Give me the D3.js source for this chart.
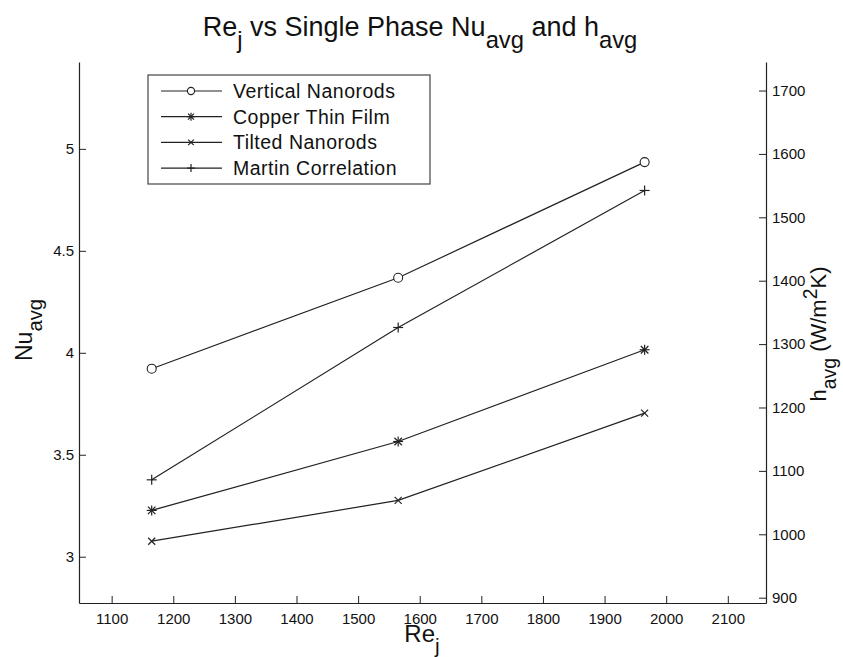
<!DOCTYPE html>
<html>
<head>
<meta charset="utf-8">
<script src="https://cdn.jsdelivr.net/npm/d3@7"></script>
<style>
  html, body { margin: 0; padding: 0; background: #fff; }
  svg { display: block; font-family: "Liberation Sans", Arial, sans-serif; }
</style>
</head>
<body>
<svg id="chart" width="843" height="657"></svg>
<script>
// Jet Reynolds number at each test point
const reynolds = [1165, 1565, 1965];

// Single phase average Nusselt number for each surface
const verticalNanorods = [3.922, 4.368, 4.935];
const copperThinFilm   = [3.227, 3.565, 4.015];
const tiltedNanorods   = [3.076, 3.276, 3.704];
const martinCorrelation = [3.377, 4.124, 4.796];

const seriesNames = ["Vertical Nanorods", "Copper Thin Film", "Tilted Nanorods", "Martin Correlation"];
const seriesMarkers = ["circle", "asterisk", "cross", "plus"];
const seriesValues = [verticalNanorods, copperThinFilm, tiltedNanorods, martinCorrelation];

// Axis limits and tick labels
const xDomain = [1047, 2162];
const nuDomain = [2.773, 5.426];
const hDomain = [891.6, 1745];
const xTicks = [1100, 1200, 1300, 1400, 1500, 1600, 1700, 1800, 1900, 2000, 2100];
const nuTicks = [3, 3.5, 4, 4.5, 5];
const hTicks = [900, 1000, 1100, 1200, 1300, 1400, 1500, 1600, 1700];

const svg = d3.select("#chart");
const plotL = 79, plotR = 766, plotT = 62, plotB = 603;
const ink = "#222";

const x = d3.scaleLinear().domain(xDomain).range([plotL, plotR]);
const yNu = d3.scaleLinear().domain(nuDomain).range([plotB, plotT]);
const yH = d3.scaleLinear().domain(hDomain).range([plotB, plotT]);

function styleAxis(g) {
  g.select(".domain").attr("stroke", ink).attr("stroke-width", 1.2);
  g.selectAll(".tick line").attr("stroke", ink).attr("stroke-width", 1);
  g.selectAll(".tick text").attr("fill", "#111").attr("font-size", 15)
    .attr("font-family", "Liberation Sans, Arial, sans-serif");
}

// Axes (ticks point inward)
svg.append("g").attr("transform", `translate(0,${plotB})`)
  .call(d3.axisBottom(x).tickValues(xTicks).tickSizeInner(-7).tickSizeOuter(0).tickPadding(10).tickFormat(d3.format("d")))
  .call(styleAxis);
svg.append("g").attr("transform", `translate(${plotL},0)`)
  .call(d3.axisLeft(yNu).tickValues(nuTicks).tickSizeInner(-7).tickSizeOuter(0).tickPadding(5).tickFormat(d => String(d)))
  .call(styleAxis);
svg.append("g").attr("transform", `translate(${plotR},0)`)
  .call(d3.axisRight(yH).tickValues(hTicks).tickSizeInner(-7).tickSizeOuter(0).tickPadding(6).tickFormat(d3.format("d")))
  .call(styleAxis);

// Marker shapes
function drawMarker(g, type, cx, cy, s) {
  if (type === "circle") {
    g.append("circle").attr("cx", cx).attr("cy", cy).attr("r", s * 0.9)
      .attr("fill", "#fff").attr("stroke", ink).attr("stroke-width", 1.1);
  } else {
    const segs = [];
    if (type === "plus" || type === "asterisk") {
      segs.push([cx - s, cy, cx + s, cy], [cx, cy - s, cx, cy + s]);
    }
    if (type === "cross" || type === "asterisk") {
      const d = type === "asterisk" ? s * 0.75 : s * 0.7;
      segs.push([cx - d, cy - d, cx + d, cy + d], [cx - d, cy + d, cx + d, cy - d]);
    }
    segs.forEach(p => g.append("line")
      .attr("x1", p[0]).attr("y1", p[1]).attr("x2", p[2]).attr("y2", p[3])
      .attr("stroke", ink).attr("stroke-width", 1.2));
  }
}

// Series lines and markers
const line = d3.line().x((d, i) => x(reynolds[i])).y(d => yNu(d));
const plot = svg.append("g");
seriesValues.forEach(vals => {
  plot.append("path").datum(vals).attr("d", line)
    .attr("fill", "none").attr("stroke", ink).attr("stroke-width", 1.2);
});
seriesValues.forEach((vals, k) => {
  vals.forEach((v, i) => drawMarker(plot, seriesMarkers[k], x(reynolds[i]), yNu(v), 5));
});

// Legend
const lg = svg.append("g");
lg.append("rect").attr("x", 148).attr("y", 75).attr("width", 282).attr("height", 109)
  .attr("fill", "#fff").attr("stroke", "#444").attr("stroke-width", 1.2);
seriesNames.forEach((name, k) => {
  const cy = 91 + k * 25.7;
  lg.append("line").attr("x1", 161).attr("x2", 222).attr("y1", cy).attr("y2", cy)
    .attr("stroke", ink).attr("stroke-width", 1.2);
  drawMarker(lg, seriesMarkers[k], 191, cy, 4);
  lg.append("text").attr("x", 233).attr("y", cy + 7).attr("font-size", 19.5)
    .attr("letter-spacing", 0.5).attr("fill", "#111").text(name);
});

// Text with sub/superscripts
function richText(g, parts, size) {
  const t = g.append("text").attr("font-size", size).attr("fill", "#111");
  parts.forEach(([s, kind]) => {
    const ts = t.append("tspan").text(s);
    if (kind === "sub") ts.attr("baseline-shift", "-50%").attr("font-size", size * 0.88);
    else if (kind === "sup") ts.attr("baseline-shift", "45%").attr("font-size", size * 0.88);
  });
  return t;
}

// Title
richText(svg.append("g").attr("transform", "translate(420,36)"),
  [["Re", ""], ["j", "sub"], [" vs Single Phase Nu", ""], ["avg", "sub"], [" and h", ""], ["avg", "sub"]], 27)
  .attr("text-anchor", "middle");

// Axis titles
richText(svg.append("g").attr("transform", "translate(422,642)"),
  [["Re", ""], ["j", "sub"]], 24).attr("text-anchor", "middle");
richText(svg.append("g").attr("transform", "translate(32,330) rotate(-90)"),
  [["Nu", ""], ["avg", "sub"]], 23).attr("text-anchor", "middle");
richText(svg.append("g").attr("transform", "translate(826,334) rotate(-90)"),
  [["h", ""], ["avg", "sub"], [" (W/m", ""], ["2", "sup"], ["K)", ""]], 22).attr("text-anchor", "middle");
</script>
</body>
</html>
